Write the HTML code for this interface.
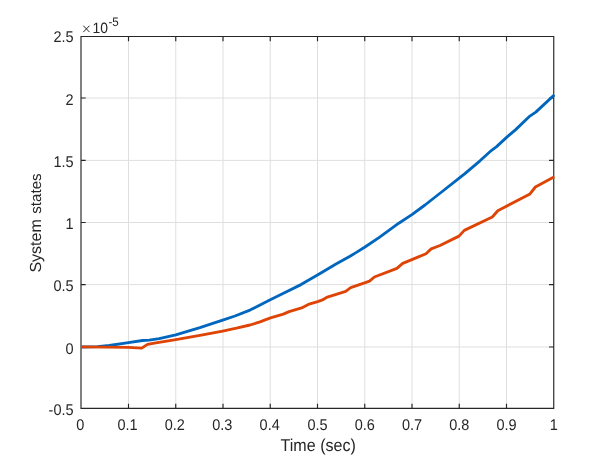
<!DOCTYPE html>
<html><head><meta charset="utf-8"><title>plot</title>
<style>html,body{margin:0;padding:0;background:#fff;overflow:hidden}body{width:601px;height:461px;position:relative;font-family:"Liberation Sans",sans-serif}svg text{text-rendering:geometricPrecision}</style>
</head><body>
<svg width="601" height="461" viewBox="0 0 601 461" style="position:absolute;left:0;top:0;will-change:transform">
<rect width="601" height="461" fill="#fff"/>
<path d="M128.50,36.45V408.35 M175.75,36.45V408.35 M223.00,36.45V408.35 M270.25,36.45V408.35 M317.50,36.45V408.35 M364.75,36.45V408.35 M412.00,36.45V408.35 M459.25,36.45V408.35 M506.50,36.45V408.35 M81.0,347.00H553.75 M81.0,284.60H553.75 M81.0,222.50H553.75 M81.0,160.40H553.75 M81.0,98.00H553.75" stroke="#dfdfdf" stroke-width="1" fill="none"/>
<path d="M81.0,36.45H553.75V408.35H81.0Z M128.50,408.35v-4.7M128.50,36.45v4.7 M175.75,408.35v-4.7M175.75,36.45v4.7 M223.00,408.35v-4.7M223.00,36.45v4.7 M270.25,408.35v-4.7M270.25,36.45v4.7 M317.50,408.35v-4.7M317.50,36.45v4.7 M364.75,408.35v-4.7M364.75,36.45v4.7 M412.00,408.35v-4.7M412.00,36.45v4.7 M459.25,408.35v-4.7M459.25,36.45v4.7 M506.50,408.35v-4.7M506.50,36.45v4.7 M81.0,347.00h4.7M553.75,347.00h-4.7 M81.0,284.60h4.7M553.75,284.60h-4.7 M81.0,222.50h4.7M553.75,222.50h-4.7 M81.0,160.40h4.7M553.75,160.40h-4.7 M81.0,98.00h4.7M553.75,98.00h-4.7" stroke="#262626" stroke-width="1.15" fill="none"/>
<defs><clipPath id="c"><rect x="81.0" y="36.45" width="473.95" height="371.90000000000003"/></clipPath></defs>
<g clip-path="url(#c)" fill="none" stroke-width="2.85" stroke-linejoin="round"><path d="M81.2,347.0 L97.6,346.7 L109.3,345.5 L128.4,342.7 L142.6,340.5 L149.2,340.1 L159.2,338.6 L175.8,334.9 L199.9,327.7 L222.7,320.2 L235.0,316.0 L250.0,310.1 L262.0,304.0 L270.3,299.7 L285.0,292.5 L301.0,284.6 L317.5,275.0 L336.0,264.0 L350.0,256.2 L356.0,252.6 L364.6,247.3 L379.3,237.4 L398.8,223.2 L411.9,214.6 L425.0,205.0 L441.6,192.0 L459.5,177.8 L464.9,173.6 L480.0,160.8 L491.6,150.3 L496.6,146.6 L506.6,137.4 L515.7,129.6 L529.1,116.7 L535.8,112.1 L554.4,94.8" stroke="#0066be"/>
<path d="M81.0,346.9 L128.4,347.4 L141.7,348.1 L147.5,344.4 L155.9,342.9 L175.8,339.7 L199.9,335.4 L222.7,331.1 L236.5,328.2 L250.0,325.0 L260.0,321.9 L270.5,317.9 L283.3,314.1 L289.1,311.6 L301.6,307.9 L308.3,304.4 L317.7,301.6 L322.4,299.9 L327.4,297.1 L345.7,291.3 L350.7,287.6 L364.6,282.8 L369.5,281.1 L374.4,277.0 L396.9,268.4 L402.7,263.4 L411.9,259.6 L426.0,253.7 L431.2,248.9 L440.0,245.5 L459.0,236.1 L464.3,230.4 L492.3,217.0 L497.8,210.8 L530.0,193.9 L535.4,187.0 L554.4,176.8" stroke="#dd4405"/></g>
<g font-family="Liberation Sans, sans-serif" fill="#262626" font-size="14.5">
<text transform="translate(80.35,430.20) scale(1,1.07)" text-anchor="middle">0</text>
<text transform="translate(127.60,430.20) scale(1,1.07)" text-anchor="middle">0.1</text>
<text transform="translate(174.85,430.20) scale(1,1.07)" text-anchor="middle">0.2</text>
<text transform="translate(222.30,430.20) scale(1,1.07)" text-anchor="middle">0.3</text>
<text transform="translate(269.65,430.20) scale(1,1.07)" text-anchor="middle">0.4</text>
<text transform="translate(317.50,430.20) scale(1,1.07)" text-anchor="middle">0.5</text>
<text transform="translate(364.75,430.20) scale(1,1.07)" text-anchor="middle">0.6</text>
<text transform="translate(412.00,430.20) scale(1,1.07)" text-anchor="middle">0.7</text>
<text transform="translate(459.25,430.20) scale(1,1.07)" text-anchor="middle">0.8</text>
<text transform="translate(506.50,430.20) scale(1,1.07)" text-anchor="middle">0.9</text>
<text transform="translate(553.75,430.20) scale(1,1.07)" text-anchor="middle">1</text>
<text transform="translate(73.60,414.95) scale(1,1.07)" text-anchor="end">-0.5</text>
<text transform="translate(73.60,353.60) scale(1,1.07)" text-anchor="end">0</text>
<text transform="translate(73.60,291.20) scale(1,1.07)" text-anchor="end">0.5</text>
<text transform="translate(73.60,229.10) scale(1,1.07)" text-anchor="end">1</text>
<text transform="translate(73.60,167.00) scale(1,1.07)" text-anchor="end">1.5</text>
<text transform="translate(73.60,104.60) scale(1,1.07)" text-anchor="end">2</text>
<text transform="translate(73.60,41.85) scale(1,1.07)" text-anchor="end">2.5</text>
<text transform="translate(92.60,32.90) scale(1,1.07)" text-anchor="start" font-size="13.9">10</text>
<text transform="translate(108.50,25.60) scale(1,1.07)" text-anchor="start" font-size="11.6">-5</text>
<path d="M83.3,25.7l6.2,6.4M89.5,25.7l-6.2,6.4" stroke="#262626" stroke-width="1" fill="none"/>
</g>
<g font-family="Liberation Sans, sans-serif" fill="#262626" font-size="16.1">
<text transform="translate(318.20,450.80) scale(1,1.07)" text-anchor="middle">Time (sec)</text>
<text transform="translate(40.5,272.6) rotate(-90)" text-anchor="start" font-size="16">System</text>
<text transform="translate(40.5,173.4) rotate(-90)" text-anchor="end" font-size="15.1">states</text>
</g></svg>
</body></html>
